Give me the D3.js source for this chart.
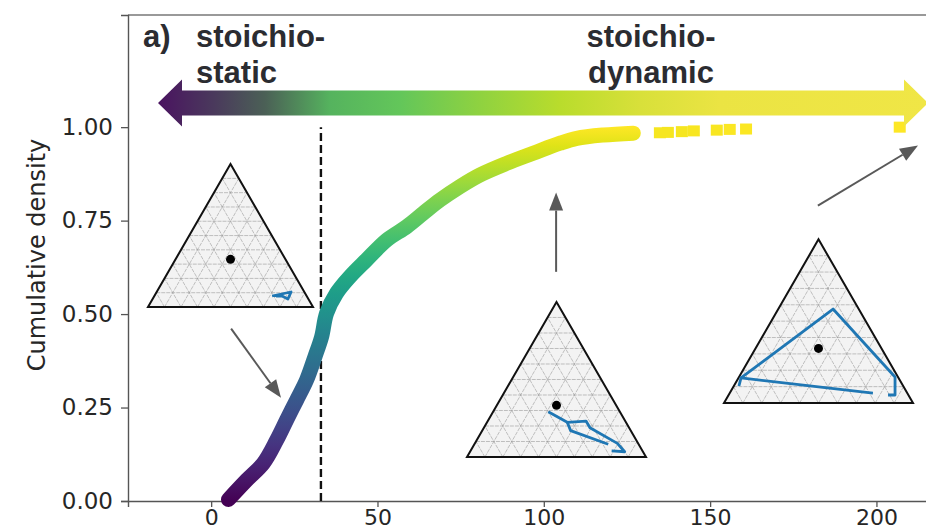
<!DOCTYPE html>
<html><head><meta charset="utf-8">
<script src="https://cdn.jsdelivr.net/npm/d3@7"></script>
<style>body{margin:0;background:#fff;overflow:hidden}</style>
</head><body><svg id="c" width="926" height="531"></svg>
<script>
// ---------- data ----------
const xTicks = [0, 50, 100, 150, 200];
const yTicks = [0, 0.25, 0.5, 0.75, 1.0];
const cdfX = [5.2, 10.7, 15.7, 19.7, 22.7, 25.7, 28.7, 31.2, 33.2, 34.7, 37.7, 41.7, 46.7, 52.8, 58.8, 63.8, 68.8, 74.8, 80.8, 88.8, 96.8, 104.9, 109.9, 117.9, 126.9];
const cdfY = [0.004, 0.056, 0.101, 0.163, 0.217, 0.270, 0.324, 0.386, 0.439, 0.502, 0.556, 0.600, 0.645, 0.698, 0.734, 0.770, 0.805, 0.841, 0.872, 0.903, 0.930, 0.957, 0.970, 0.979, 0.984];
const tailX = [134.9, 137.3, 141.5, 145.1, 152.0, 155.9, 160.8, 207.0];
const tailY = [0.985, 0.986, 0.988, 0.990, 0.992, 0.994, 0.995, 1.0];
const thresholdX = 33;
const regimeLabels = [["stoichio-", "static"], ["stoichio-", "dynamic"]];
const panelLabel = "a)";
const yLabel = "Cumulative density";
// ternary trajectories (local coords: fraction of base width, fraction of height)
const tri1Paths = [[[0.752,0.077],[0.867,0.105],[0.848,0.056],[0.812,0.077],[0.776,0.077]]];
const tri2Paths = [
  [[0.454,0.292],[0.560,0.224],[0.665,0.232],[0.687,0.189],[0.840,0.088],[0.881,0.034],[0.808,0.039]],
  [[0.560,0.224],[0.579,0.170],[0.789,0.082]]
];
const tri3Paths = [
  [[0.788,0.061],[0.090,0.153],[0.079,0.104]],
  [[0.090,0.153],[0.577,0.574],[0.905,0.159],[0.905,0.049],[0.868,0.049]]
];
// ---------- layout / style ----------
const arrowColors = ["#4a1360","#4a3a5c","#4b6056","#55b35e","#63c65a","#8fd240","#b9dc2c","#d8e03a","#ebe443","#f0e646"];
const arrowStopsPx = [158,215,265,330,400,480,560,640,720,928];

const svg = d3.select("#c");
const x = d3.scaleLinear().domain([-25, 215.5]).range([128, 928]);
const y = d3.scaleLinear().domain([0, 1.3]).range([501, 15]);
const defs = svg.append("defs");

// viridis gradient along y for curve
const g1 = defs.append("linearGradient").attr("id","vir").attr("gradientUnits","userSpaceOnUse")
  .attr("x1",0).attr("x2",0).attr("y1",y(0)).attr("y2",y(1));
d3.range(0, 1.0001, 0.05).forEach(t => g1.append("stop").attr("offset", t).attr("stop-color", d3.interpolateViridis(t)));

// spines
svg.append("line").attr("x1",128).attr("x2",928).attr("y1",15).attr("y2",15).attr("stroke","#777").attr("stroke-width",1.3);
// axes
const fontTick = "'DejaVu Sans', sans-serif";
const ax = svg.append("g").attr("transform","translate(0,501)")
  .call(d3.axisBottom(x).tickValues(xTicks).tickFormat(d3.format("d")).tickSize(6).tickPadding(2));
const ay = svg.append("g").attr("transform","translate(128,0)")
  .call(d3.axisLeft(y).tickValues(yTicks).tickFormat(d3.format(".2f")).tickSize(7).tickPadding(8));
[ax, ay].forEach(a => {
  a.select(".domain").attr("stroke","#555").attr("stroke-width",1.4);
  a.selectAll(".tick line").attr("stroke","#555").attr("stroke-width",1.3);
  a.selectAll(".tick text").attr("font-family",fontTick).attr("font-size",23).attr("fill","#262626");
});
ax.selectAll(".tick text").attr("font-size",22);
svg.append("text").attr("transform","translate(45,255) rotate(-90)").attr("text-anchor","middle")
  .attr("font-family",fontTick).attr("font-size",24).attr("fill","#262626").text(yLabel);

// threshold dashed line
svg.append("line").attr("x1",x(thresholdX)).attr("x2",x(thresholdX)).attr("y1",y(0)).attr("y2",y(1))
  .attr("stroke","#111").attr("stroke-width",2.4).attr("stroke-dasharray","8,4");

// CDF curve
const pts = cdfX.map((v,i)=>[v,cdfY[i]]);
svg.append("path").datum(pts)
  .attr("d", d3.line().x(d=>x(d[0])).y(d=>y(d[1])).curve(d3.curveCatmullRom.alpha(0.5)))
  .attr("fill","none").attr("stroke","url(#vir)").attr("stroke-width",15)
  .attr("stroke-linecap","round").attr("stroke-linejoin","round");
svg.selectAll("rect.tail").data(tailX.map((v,i)=>[v,tailY[i]])).enter().append("rect")
  .attr("x",d=>x(d[0])-6).attr("y",d=>y(d[1])-5.5).attr("width",12).attr("height",11)
  .attr("fill",d=>d3.interpolateViridis(Math.min(1,d[1])));

// insets
const insets = [
  {left:148, base:307, width:165, paths:tri1Paths},
  {left:467, base:457, width:179, paths:tri2Paths},
  {left:724, base:403, width:189, paths:tri3Paths}
];
insets.forEach(ins => {
  const h = ins.width*Math.sqrt(3)/2;
  const lx = d3.scaleLinear().domain([0,1]).range([ins.left, ins.left+ins.width]);
  const ly = d3.scaleLinear().domain([0,1]).range([ins.base, ins.base-h]);
  const g = svg.append("g");
  const A=[0,0],B=[1,0],C=[0.5,1];
  const P=(a,b,c)=>[lx(a*A[0]+b*B[0]+c*C[0]), ly(a*A[1]+b*B[1]+c*C[1])];
  g.append("polygon").attr("points",[P(1,0,0),P(0,1,0),P(0,0,1)].map(p=>p.join(",")).join(" "))
    .attr("fill","#f3f3f3").attr("stroke","none");
  for (let i=1;i<10;i++){
    const f=i/10;
    const segs=[[P(1-f,0,f),P(0,1-f,f)],[P(f,1-f,0),P(f,0,1-f)],[P(1-f,f,0),P(0,f,1-f)]];
    segs.forEach(s=>g.append("line").attr("x1",s[0][0]).attr("y1",s[0][1]).attr("x2",s[1][0]).attr("y2",s[1][1])
      .attr("stroke","#9a9a9a").attr("stroke-width",0.6).attr("stroke-dasharray", "4,1"));
  }
  g.append("polygon").attr("points",[P(1,0,0),P(0,1,0),P(0,0,1)].map(p=>p.join(",")).join(" "))
    .attr("fill","none").attr("stroke","#111").attr("stroke-width",2).attr("stroke-linejoin","miter");
  ins.paths.forEach(p=>{
    g.append("path").attr("d", d3.line().x(d=>lx(d[0])).y(d=>ly(d[1]))(p))
      .attr("fill","none").attr("stroke","#1f77b4").attr("stroke-width",2.8).attr("stroke-linejoin","round").attr("stroke-linecap","butt");
  });
  const cen = P(1/3,1/3,1/3);
  g.append("circle").attr("cx",cen[0]).attr("cy",cen[1]).attr("r",4.5).attr("fill","#000");
});

// annotation arrows (data coords)
const annotations = [
  {from:[6.0,0.461], to:[21.0,0.276]},
  {from:[103.7,0.613], to:[103.7,0.825]},
  {from:[182.4,0.790], to:[212.5,0.951]}
];
annotations.forEach(a=>{
  const x0=x(a.from[0]), y0=y(a.from[1]), x1=x(a.to[0]), y1=y(a.to[1]);
  const L=Math.hypot(x1-x0,y1-y0), ux=(x1-x0)/L, uy=(y1-y0)/L;
  const hl=18, hw=7;
  const bx=x1-ux*hl, by=y1-uy*hl;
  svg.append("line").attr("x1",x0).attr("y1",y0).attr("x2",bx).attr("y2",by).attr("stroke","#595959").attr("stroke-width",2);
  svg.append("polygon").attr("points",[[x1,y1],[bx-uy*hw,by+ux*hw],[bx+uy*hw,by-ux*hw]].map(p=>p.join(",")).join(" "))
    .attr("fill","#595959");
});

// gradient double arrow
const g2 = defs.append("linearGradient").attr("id","arr").attr("gradientUnits","userSpaceOnUse")
  .attr("x1",158).attr("x2",928).attr("y1",0).attr("y2",0);
arrowColors.forEach((c,i)=>g2.append("stop").attr("offset",(arrowStopsPx[i]-158)/(928-158)).attr("stop-color",c));
const ay0=103, bh=12.5, hh=23.5, hlen=24, xl=158, xr=928;
const arrowPts=[[xl,ay0],[xl+hlen,ay0-hh],[xl+hlen,ay0-bh],[xr-hlen,ay0-bh],[xr-hlen,ay0-hh],[xr,ay0],[xr-hlen,ay0+hh],[xr-hlen,ay0+bh],[xl+hlen,ay0+bh],[xl+hlen,ay0+hh]];
svg.append("polygon").attr("points",arrowPts.map(p=>p.join(",")).join(" ")).attr("fill","url(#arr)");

// texts
const tf="'Liberation Sans', Arial, sans-serif";
svg.append("text").attr("x",143).attr("y",47).attr("font-family",tf).attr("font-weight","bold").attr("font-size",31).attr("fill","#2b2c31").text(panelLabel);
svg.append("text").attr("x",196).attr("y",47).attr("font-family",tf).attr("font-weight","bold").attr("font-size",31).attr("fill","#2b2c31").text(regimeLabels[0][0]);
svg.append("text").attr("x",196).attr("y",83).attr("font-family",tf).attr("font-weight","bold").attr("font-size",31).attr("fill","#2b2c31").text(regimeLabels[0][1]);
svg.append("text").attr("x",651).attr("y",47).attr("text-anchor","middle").attr("font-family",tf).attr("font-weight","bold").attr("font-size",31).attr("fill","#2b2c31").text(regimeLabels[1][0]);
svg.append("text").attr("x",651).attr("y",83).attr("text-anchor","middle").attr("font-family",tf).attr("font-weight","bold").attr("font-size",31).attr("fill","#2b2c31").text(regimeLabels[1][1]);
</script></body></html>
